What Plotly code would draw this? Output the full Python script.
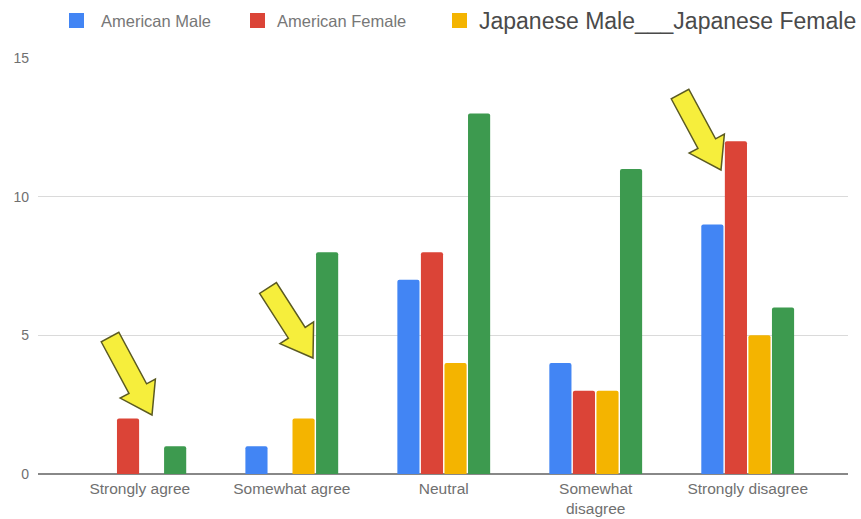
import plotly.graph_objects as go
import math

categories = ["Strongly agree", "Somewhat agree", "Neutral", "Somewhat<br>disagree", "Strongly disagree"]
american_male = [0, 1, 7, 4, 9]
american_female = [2, 0, 8, 3, 12]
japanese_male = [0, 2, 4, 3, 5]
japanese_female = [1, 8, 13, 11, 6]
series_names = ["American Male", "American Female", "Japanese Male", "Japanese Female"]
colors = ["#4285F4", "#DB4437", "#F4B400", "#3D9A4F"]

W, H = 861, 519
L, R, T, B = 38, 13, 58, 45
PW, PH = W - L - R, H - T - B

def px(x):
    return (x - L) / PW

def py(y):
    return (H - B - y) / PH

fig = go.Figure()
for name, vals, col in zip(series_names, [american_male, american_female, japanese_male, japanese_female], colors):
    fig.add_trace(go.Bar(x=categories, y=vals, name=name, marker=dict(color=col, line=dict(width=0), cornerradius=2),
                         showlegend=False))

shapes = []
annotations = []

# manual legend
legend_items = [
    (69, "American Male", colors[0], 16.5, "#777777", 99),
    (250, "American Female", colors[1], 16.5, "#777777", 275),
    (452, "Japanese Male___Japanese Female", colors[2], 23, "#4A4A4A", 477),
]
for sx, text, col, fs, fc, tx in legend_items:
    shapes.append(dict(type="rect", xref="paper", yref="paper", x0=px(sx), x1=px(sx + 15),
                       y0=py(28), y1=py(13), fillcolor=col, line=dict(width=0)))
    annotations.append(dict(xref="paper", yref="paper", x=px(tx), y=py(21), text=text, showarrow=False,
                            xanchor="left", yanchor="middle", font=dict(size=fs, color=fc)))

def arrow(tail, tip, shaft=20, head=40, headlen=30):
    tx, ty = tail
    hx, hy = tip
    dx, dy = hx - tx, hy - ty
    d = math.hypot(dx, dy)
    ux, uy = dx / d, dy / d
    nx, ny = -uy, ux
    bx, by = hx - ux * headlen, hy - uy * headlen
    pts = [
        (tx + nx * shaft / 2, ty + ny * shaft / 2),
        (bx + nx * shaft / 2, by + ny * shaft / 2),
        (bx + nx * head / 2, by + ny * head / 2),
        (hx, hy),
        (bx - nx * head / 2, by - ny * head / 2),
        (bx - nx * shaft / 2, by - ny * shaft / 2),
        (tx - nx * shaft / 2, ty - ny * shaft / 2),
    ]
    path = "M " + " L ".join(f"{px(x):.5f},{py(y):.5f}" for x, y in pts) + " Z"
    return dict(type="path", xref="paper", yref="paper", path=path, fillcolor="#F6EE3C",
                line=dict(color="#5B5A22", width=1.5), layer="above")

shapes.append(arrow((110, 337), (152, 415)))
shapes.append(arrow((268, 288), (313, 358)))
shapes.append(arrow((680, 94), (721, 170)))

fig.update_layout(
    width=W, height=H,
    margin=dict(l=L, r=R, t=T, b=B),
    paper_bgcolor="white", plot_bgcolor="white",
    barmode="group", bargap=0.38, bargroupgap=0.06,
    font=dict(family="Liberation Sans, Arial, sans-serif", size=13, color="#777777"),
    xaxis=dict(range=[-0.67, 4.66], showgrid=False, showline=False, ticks="", ticklabelstandoff=3,
               automargin=False, tickfont=dict(size=15.5, color="#707070")),
    yaxis=dict(range=[0, 15], tickvals=[0, 5, 10, 15], showgrid=True, gridcolor="#DADADA", gridwidth=1,
               zeroline=True, zerolinecolor="#888888", zerolinewidth=1.5, ticks="", ticklabelstandoff=8,
               automargin=False, tickfont=dict(size=14, color="#707070")),
    shapes=shapes, annotations=annotations,
    showlegend=False,
)

fig.write_html("out.html")
